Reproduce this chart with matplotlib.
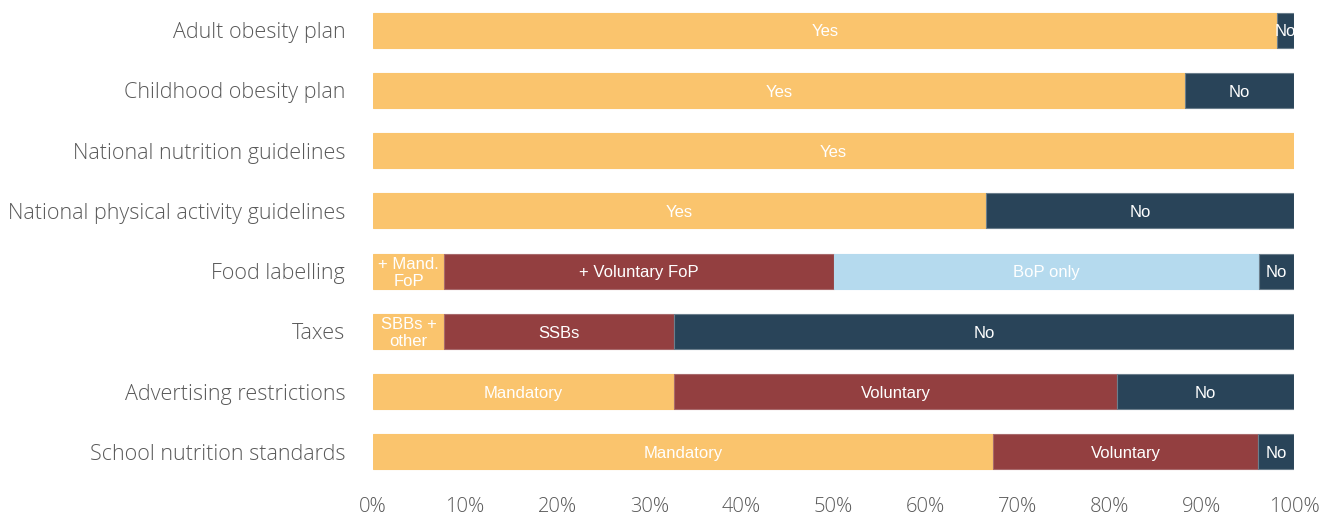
import matplotlib
matplotlib.use("Agg")
import matplotlib.pyplot as plt
import numpy as np

categories = ["Adult obesity plan", "Childhood obesity plan", "National nutrition guidelines",
              "National physical activity guidelines", "Food labelling", "Taxes",
              "Advertising restrictions", "School nutrition standards"]

# each row: list of (label, value %, colour key)
adult = [("Yes", 98.1, "y"), ("No", 1.9, "n")]
childhood = [("Yes", 88.2, "y"), ("No", 11.8, "n")]
nutrition = [("Yes", 100.0, "y")]
physical = [("Yes", 66.6, "y"), ("No", 33.4, "n")]
labelling = [("+ Mand.\nFoP", 7.7, "y"), ("+ Voluntary FoP", 42.3, "r"), ("BoP only", 46.2, "b"), ("No", 3.8, "n")]
taxes = [("SBBs +\nother", 7.7, "y"), ("SSBs", 25.0, "r"), ("No", 67.3, "n")]
advertising = [("Mandatory", 32.7, "y"), ("Voluntary", 48.1, "r"), ("No", 19.2, "n")]
school = [("Mandatory", 67.3, "y"), ("Voluntary", 28.8, "r"), ("No", 3.9, "n")]

rows = [adult, childhood, nutrition, physical, labelling, taxes, advertising, school]
xticks = np.arange(0, 101, 10)

colors = {"y": "#FAC46D", "r": "#933F40", "b": "#B5DAEE", "n": "#294459"}
edges = {"y": "#FAC46D", "r": "#A86A6C", "b": "#B5DAEE", "n": "#6B7E8C"}

fig = plt.figure(figsize=(13.25, 5.19), dpi=100)
ax = fig.add_axes([373/1325, 37/519, (1294-373)/1325, 482/519])

for i, row in enumerate(rows):
    left = 0
    for label, val, c in row:
        ax.barh(i, val, left=left, height=0.58, color=colors[c], edgecolor=edges[c], linewidth=0.8)
        ax.text(left + val/2, i + 0.03, label, ha="center", va="center", color="white",
                fontsize=12, family="Liberation Sans", linespacing=1.2)
        left += val

ax.set_ylim(len(rows) - 0.5, -0.5)
ax.set_xlim(0, 100)
ax.set_yticks(range(len(rows)))
ax.set_yticklabels(categories, family="Open Sans", fontweight="light", fontsize=15.5, color="#595959")
ax.set_xticks(xticks)
ax.set_xticklabels([f"{v}%" for v in xticks], family="Open Sans", fontweight="light", fontsize=14.5, color="#595959")
ax.tick_params(axis="y", length=0, pad=20)
ax.tick_params(axis="x", length=0, pad=11)
for s in ax.spines.values():
    s.set_visible(False)

fig.savefig("out.png", dpi=100)
